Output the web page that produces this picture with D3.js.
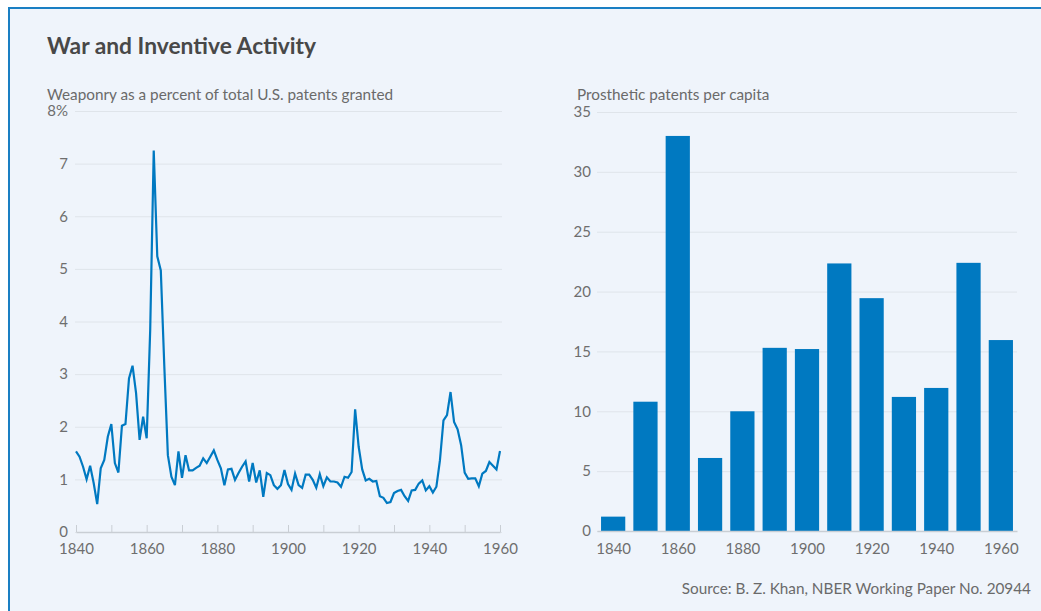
<!DOCTYPE html>
<html>
<head>
<meta charset="utf-8">
<script src="https://cdn.jsdelivr.net/npm/d3@7"></script>
<style>
  body { margin: 0; background: #ffffff; }
  svg { display: block; font-family: "Lato", sans-serif; }
</style>
</head>
<body>
<div id="chart"></div>
<script>

// weaponry patents as percent of total, one value per year 1840..1960
var weaponYears = d3.range(1840, 1961);
var weaponShare = [
  1.53, 1.43, 1.24, 1.00, 1.26, 0.93, 0.53, 1.21, 1.37, 1.81,
  2.05, 1.31, 1.13, 2.02, 2.05, 2.92, 3.16, 2.64, 1.75, 2.19,
  1.78, 3.84, 7.25, 5.24, 4.97, 3.14, 1.46, 1.05, 0.89, 1.53,
  1.03, 1.46, 1.17, 1.17, 1.22, 1.26, 1.40, 1.31, 1.43, 1.55,
  1.37, 1.21, 0.89, 1.19, 1.20, 0.99, 1.12, 1.24, 1.34, 0.96,
  1.31, 0.94, 1.17, 0.67, 1.12, 1.08, 0.89, 0.82, 0.89, 1.18,
  0.91, 0.80, 1.11, 0.89, 0.84, 1.09, 1.09, 0.99, 0.84, 1.10,
  0.87, 1.04, 0.96, 0.96, 0.94, 0.86, 1.05, 1.03, 1.14, 2.33,
  1.62, 1.19, 0.98, 1.01, 0.96, 0.97, 0.68, 0.65, 0.55, 0.57,
  0.74, 0.78, 0.80, 0.68, 0.59, 0.79, 0.80, 0.92, 0.98, 0.79,
  0.87, 0.75, 0.86, 1.36, 2.12, 2.22, 2.66, 2.09, 1.95, 1.65,
  1.13, 1.01, 1.02, 1.02, 0.87, 1.11, 1.16, 1.33, 1.26, 1.19,
  1.54
];

// prosthetic patents per capita, by decade
var decades = [1840, 1850, 1860, 1870, 1880, 1890, 1900, 1910, 1920, 1930, 1940, 1950, 1960];
var prostheticPatents = [1.2, 10.8, 33.0, 6.1, 10.0, 15.3, 15.2, 22.35, 19.45, 11.2, 11.95, 22.4, 15.95];

var leftTicksY = [0, 1, 2, 3, 4, 5, 6, 7, 8];
var rightTicksY = [0, 5, 10, 15, 20, 25, 30, 35];
var yearTicks = [1840, 1860, 1880, 1900, 1920, 1940, 1960];
var minorYearTicks = d3.range(1840, 1961, 10);

var width = 1041;
var height = 611;
var blue = "#0079c1";
var gridColor = "#dfe4ea";
var labelColor = "#6e6e6e";
var labelSize = 15;

// Create the SVG container.
const svg = d3.select("#chart").append("svg")
    .attr("width", width)
    .attr("height", height);

// card background with blue top/left border
svg.append("rect")
    .attr("x", 8).attr("y", 8)
    .attr("width", width).attr("height", height)
    .attr("fill", "#eff4fb");
svg.append("rect")
    .attr("x", 8).attr("y", 7)
    .attr("width", width).attr("height", 2)
    .attr("fill", "#1a7fc3");
svg.append("rect")
    .attr("x", 8).attr("y", 7)
    .attr("width", 2).attr("height", height)
    .attr("fill", "#1a7fc3");

svg.append("text")
    .attr("x", 47).attr("y", 54)
    .attr("font-size", 22.8).attr("font-weight", 700)
    .attr("fill", "#484848")
    .text("War and Inventive Activity");

svg.append("text")
    .attr("x", 47).attr("y", 100)
    .attr("font-size", 15.3)
    .attr("fill", "#6a6a6a")
    .text("Weaponry as a percent of total U.S. patents granted");

svg.append("text")
    .attr("x", 577).attr("y", 100)
    .attr("font-size", 15.3)
    .attr("fill", "#6a6a6a")
    .text("Prosthetic patents per capita");

svg.append("text")
    .attr("x", 1031).attr("y", 594)
    .attr("text-anchor", "end")
    .attr("font-size", 15.3)
    .attr("fill", "#6a6a6a")
    .text("Source: B. Z. Khan, NBER Working Paper No. 20944");

//---------- left chart: line ----------
var x1 = d3.scaleLinear().domain([1840, 1960]).range([76, 500]);
var y1 = d3.scaleLinear().domain([0, 8]).range([532, 111]);

//Add the y-axis with gridlines.
const gy1 = svg.append("g")
    .attr("transform", "translate(75,0)")
    .call(d3.axisLeft(y1)
        .tickValues(leftTicksY)
        .tickSize(-427)
        .tickPadding(7)
        .tickFormat(d => d === 8 ? "8%" : d));
gy1.select(".domain").remove();
gy1.selectAll("line").attr("stroke", gridColor);
gy1.selectAll("text")
    .attr("font-size", labelSize)
    .attr("font-family", "Lato, sans-serif")
    .attr("fill", labelColor);

//Add the x-axis, ticks pointing up.
const gx1 = svg.append("g")
    .attr("transform", "translate(0,532)")
    .call(d3.axisBottom(x1)
        .tickValues(minorYearTicks)
        .tickSizeInner(-7)
        .tickSizeOuter(0)
        .tickPadding(11)
        .tickFormat(d => yearTicks.includes(d) ? d : ""));
gx1.select(".domain").attr("stroke", "#c9ced4").attr("stroke-width", 1.5);
gx1.selectAll("line").attr("stroke", "#c9ced4");
gx1.selectAll("text")
    .attr("font-size", labelSize)
    .attr("font-family", "Lato, sans-serif")
    .attr("fill", labelColor);

var line = d3.line()
    .x((d, i) => x1(weaponYears[i]))
    .y(d => y1(d));

svg.append("path")
    .datum(weaponShare)
    .attr("fill", "none")
    .attr("stroke", blue)
    .attr("stroke-width", 2.2)
    .attr("stroke-linejoin", "miter")
    .attr("d", line);

//---------- right chart: bars ----------
var x2 = d3.scaleLinear().domain([1835, 1965]).range([597, 1017]);
var y2 = d3.scaleLinear().domain([0, 35]).range([531, 112]);

const gy2 = svg.append("g")
    .attr("transform", "translate(597,0)")
    .call(d3.axisLeft(y2)
        .tickValues(rightTicksY)
        .tickSize(-420)
        .tickPadding(6));
gy2.select(".domain").remove();
gy2.selectAll("line").attr("stroke", gridColor);
gy2.selectAll("text")
    .attr("font-size", labelSize)
    .attr("font-family", "Lato, sans-serif")
    .attr("fill", labelColor);

svg.append("g")
    .selectAll("rect")
    .data(prostheticPatents)
    .join("rect")
    .attr("x", (d, i) => x2(decades[i] - 3.75))
    .attr("width", x2(1842.5) - x2(1835))
    .attr("y", d => y2(d))
    .attr("height", d => y2(0) - y2(d))
    .attr("fill", blue);

const gx2 = svg.append("g")
    .attr("transform", "translate(0,531)")
    .call(d3.axisBottom(x2)
        .tickValues(yearTicks)
        .tickSize(0)
        .tickPadding(12)
        .tickFormat(d => d));
gx2.select(".domain").attr("stroke", "#c9ced4").attr("stroke-width", 1.5);
gx2.selectAll("text")
    .attr("font-size", labelSize)
    .attr("font-family", "Lato, sans-serif")
    .attr("fill", labelColor);

</script>
</body>
</html>
